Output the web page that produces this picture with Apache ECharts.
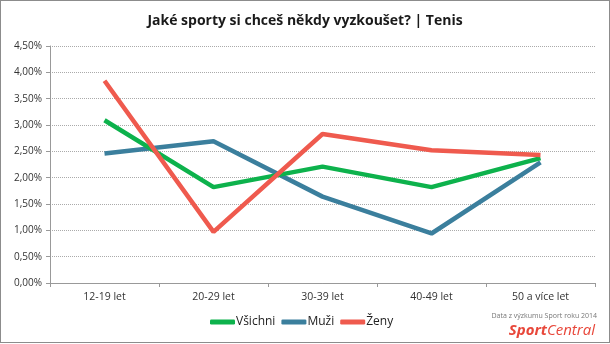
<!DOCTYPE html>
<html><head><meta charset="utf-8">
<script src="https://cdn.jsdelivr.net/npm/echarts@6/dist/echarts.min.js"></script>
<style>
html,body{margin:0;padding:0;background:#fff;}
#c{position:absolute;left:0;top:0;width:608px;height:341px;border:1px solid #8c8c8c;box-sizing:content-box;}
</style></head>
<body><div id="c"></div>
<script>
const categories = ['12-19 let','20-29 let','30-39 let','40-49 let','50 a více let'];
const vsichni = [3.09, 1.82, 2.21, 1.82, 2.37];
const muzi = [2.46, 2.69, 1.64, 0.94, 2.29];
const zeny = [3.84, 0.97, 2.83, 2.52, 2.43];
const yTicks = [0,0.5,1,1.5,2,2.5,3,3.5,4,4.5];

const chart = echarts.init(document.getElementById('c'), null, {renderer:'canvas'});
const lw = 4.5;
chart.setOption({
  animation:false,
  title:{text:'Jaké sporty si chceš někdy vyzkoušet? | Tenis', left:'center', top:8,
    textStyle:{fontFamily:'Open Sans', fontWeight:'bold', fontSize:14, color:'#1a1a1a'}},
  grid:{left:49, right:14, top:45, bottom:59},
  legend:{bottom:9, left:204, itemWidth:25, itemHeight:5, itemGap:6,
    icon:'roundRect',
    textStyle:{fontFamily:'Open Sans', fontSize:12, color:'#222', padding:[0,0,0,-4]},
    data:['Všichni','Muži','Ženy']},
  xAxis:{type:'category', data:categories, boundaryGap:true,
    axisLine:{lineStyle:{color:'#999'}},
    axisTick:{show:true, length:4, lineStyle:{color:'#999'}},
    axisLabel:{fontFamily:'Open Sans', fontSize:10.5, color:'#333', margin:9}},
  yAxis:{type:'value', min:0, max:4.5, interval:0.5,
    axisLine:{show:true, lineStyle:{color:'#999'}},
    axisTick:{show:true, inside:false, length:4, lineStyle:{color:'#999'}},
    splitLine:{lineStyle:{color:'#aaa', type:[1,1]}},
    axisLabel:{fontFamily:'Open Sans', fontSize:10, color:'#333', margin:8,
      formatter:v=>v.toFixed(2).replace('.',',')+'%'}},
  series:[
    {name:'Všichni', type:'line', data:vsichni, symbol:'none', lineStyle:{width:lw, color:'#0db24c'}, itemStyle:{color:'#0db24c'}, z:3},
    {name:'Muži', type:'line', data:muzi, symbol:'none', lineStyle:{width:lw, color:'#3b7f9d'}, itemStyle:{color:'#3b7f9d'}, z:2},
    {name:'Ženy', type:'line', data:zeny, symbol:'none', lineStyle:{width:lw, color:'#ef5a4e'}, itemStyle:{color:'#ef5a4e'}, z:4}
  ],
  graphic:[
    {type:'text', right:12, top:311, style:{text:'Data z výzkumu Sport roku 2014', fontFamily:'Open Sans', fontSize:7, fill:'#777'}},
    {type:'text', right:14, top:322, style:{text:'{a|Sport}{b|Central}', rich:{
      a:{fontFamily:'Open Sans', fontStyle:'italic', fontWeight:'bold', fontSize:15, fill:'#e8473a', color:'#e8473a'},
      b:{fontFamily:'Open Sans', fontStyle:'italic', fontSize:15, fill:'#e8473a', color:'#e8473a'}}}}
  ]
});
</script></body></html>
